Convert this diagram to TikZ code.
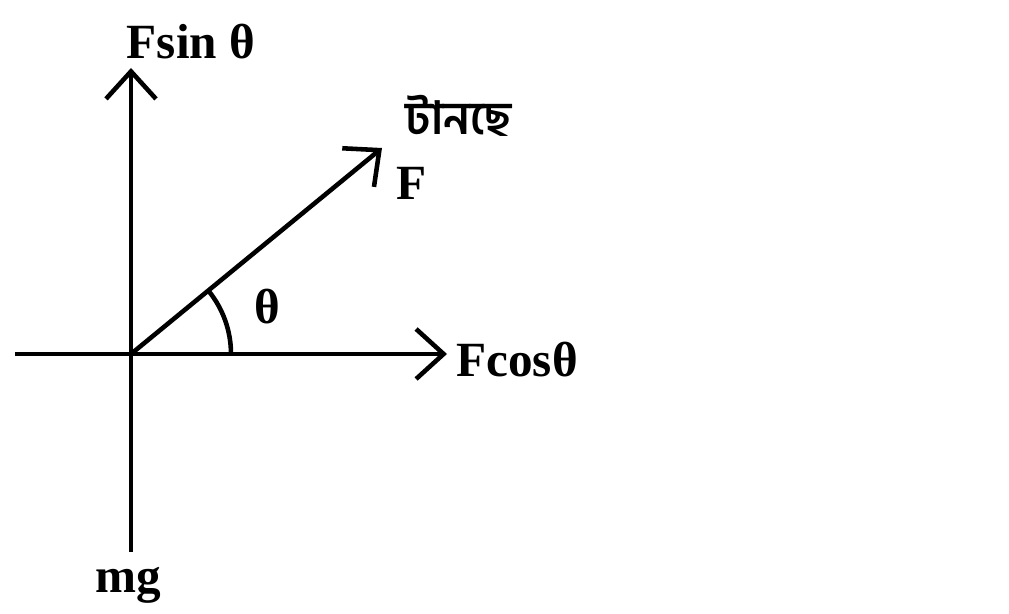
\documentclass[tikz,border=0pt]{standalone}
\usepackage{fontspec}
\setmainfont{Liberation Serif}
\newfontfamily\bnfont[Script=Bengali]{Hind Siliguri}
\usetikzlibrary{arrows.meta, positioning, angles}
\tikzset{
  axisln/.style={line width=2.6pt, draw=black},
  vec/.style={axisln, -{Straight Barb[length=5.5mm, width=10mm, line width=2.6pt]}},
  lbl/.style={font=\fontsize{28}{32}\selectfont\bfseries, inner sep=0pt},
  bnlbl/.style={font=\fontsize{26}{30}\selectfont\bnfont\bfseries, inner sep=0pt},
}
\begin{document}
\begin{tikzpicture}
  \useasboundingbox (-2.62,-5.2) rectangle (17.56,7.08);
  \coordinate (O) at (0,0);
  \coordinate (xl) at (-2.32,0);
  \coordinate (xr) at (6.32,0);
  \coordinate (yt) at (0,5.72);
  \coordinate (yb) at (0,-3.96);
  \coordinate (ft) at (5.02,4.12);
  \draw[axisln] (xl) -- (O);
  \draw[vec] (O) -- (xr);
  \draw[vec] (O) -- (yt);
  \draw[axisln] (O) -- (yb);
  \draw[vec] (O) -- (ft);
  \pic[draw, axisln, angle radius=2cm] {angle=xr--O--ft};
  \node[lbl] (fsin) at (1.2,6.24) {Fsin θ};
  \node[lbl, anchor=west] (fcos) at (6.5,-0.12) {Fcosθ};
  \node[lbl] (mg) at (-0.06,-4.62) {mg};
  \node[lbl] (th) at (2.72,0.94) {θ};
  \node[lbl] (fl) at (5.62,3.42) {F};
  \node[bnlbl] (pull) at (6.56,4.76) {টানছে};
\end{tikzpicture}
\end{document}
